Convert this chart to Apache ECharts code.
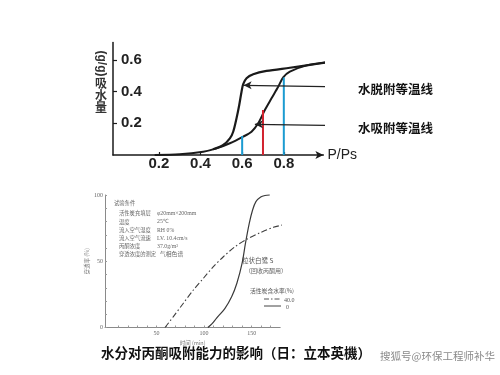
<!DOCTYPE html>
<html><head><meta charset="utf-8">
<script src="https://cdn.jsdelivr.net/npm/echarts@6/dist/echarts.min.js"></script>
<style>html,body{margin:0;padding:0;background:#fff}#c{width:500px;height:375px}</style>
</head><body><div id="c"></div>
<script>
// ---------- top chart: water isotherms ----------
const isoXTicks = [0.2, 0.4, 0.6, 0.8];
const isoYTicks = [0.2, 0.4, 0.6];
const adsorption = [[0.18,0.0],[0.3,0.004],[0.413,0.021],[0.477,0.042],[0.541,0.074],[0.605,0.116],[0.645,0.147],[0.677,0.20],[0.709,0.284],[0.741,0.358],[0.773,0.431],[0.797,0.49],[0.829,0.526],[0.91,0.566],[1.013,0.586]];
const desorption = [[0.46,0.036],[0.509,0.063],[0.541,0.105],[0.557,0.147],[0.573,0.232],[0.586,0.316],[0.597,0.40],[0.605,0.447],[0.621,0.485],[0.653,0.51],[0.717,0.531],[0.829,0.551],[0.925,0.569],[1.013,0.586]];
const guideX = [0.6, 0.7, 0.8];
const guideTop = [0.12, 0.285, 0.49];
const guideColor = ['#1b9bd1', '#d2232f', '#1b9bd1'];
const arrowDes = [[1.127, 0.43], [0.607, 0.44]];
const arrowAds = [[1.127, 0.184], [0.661, 0.194]];

// ---------- bottom chart: acetone breakthrough ----------
const btXLabels = [50, 100, 150];
const btXTicks = [10,20,30,40,50,60,70,80,90,100,110,120,130,140,150,160,170];
const btYLabels = [0, 50, 100];
const moist0 = [[104,0],[108,2.5],[113,6.9],[122,14.5],[129,23.2],[134.5,33.4],[140,48.5],[143.5,63.5],[147.5,78.6],[151,88.7],[154.5,95],[159.5,98.5],[164,99.6],[169,100]];
const moist40 = [[59,0],[67.8,8.2],[78.3,18.3],[88.8,28.3],[99.3,37.1],[109.8,45.9],[120.3,53.4],[132.6,61],[144.9,66.6],[158.8,71.5],[172.8,75.6],[190.3,78.6]];
const condLabels = ['试验条件','活性炭充填层','温度','流入空气湿度','流入空气流速','丙酮浓度','穿透浓度的测定'];
const condValues = ['','φ20mm×200mm','25℃','RH 0%','LV. 10.4cm/s','37.0g/m³','气相色谱'];

const SANS = '"Liberation Sans", Arial, sans-serif';
const CJK = '"Noto Sans CJK SC", sans-serif';

const chart = echarts.init(document.getElementById('c'), null, {renderer:'canvas'});

const series = [];
series.push({type:'line', xAxisIndex:0, yAxisIndex:0, data:adsorption, smooth:0.3, symbol:'none', clip:false,
  lineStyle:{color:'#1a1a1a', width:2}});
series.push({type:'line', xAxisIndex:0, yAxisIndex:0, data:desorption, smooth:0.3, symbol:'none', clip:false,
  lineStyle:{color:'#1a1a1a', width:2.2}});
guideX.forEach((x,i)=>{
  series.push({type:'line', xAxisIndex:0, yAxisIndex:0, data:[[x,0],[x,guideTop[i]]], symbol:'none',
    lineStyle:{color:guideColor[i], width:2}});
});
[arrowDes, arrowAds].forEach(a=>{
  series.push({type:'line', xAxisIndex:0, yAxisIndex:0, clip:false,
    data:[{value:a[0], symbol:'none'}, {value:a[1], symbol:'arrow', symbolSize:[6,8], symbolRotate:90}],
    showAllSymbol:true, lineStyle:{color:'#222', width:1.3}, itemStyle:{color:'#222'}});
});
series.push({type:'line', xAxisIndex:1, yAxisIndex:1, data:moist0, smooth:0.3, symbol:'none', clip:false,
  lineStyle:{color:'#3a3a3a', width:1.2}});
series.push({type:'line', xAxisIndex:1, yAxisIndex:1, data:moist40, smooth:0.3, symbol:'none', clip:false,
  lineStyle:{color:'#3f3f3f', width:1.1, type:[6,2.5,1.5,2.5]}});

const graphics = [];
function txt(x,y,text,o){
  o = o||{};
  graphics.push({type:'text', silent:true, rotation:o.rot||0, x:x, y:y,
    style:{text:text, x:0, y:0, fill:o.color||'#222', fontSize:o.size||12, fontWeight:o.weight||'normal',
      fontFamily:o.family||CJK, align:o.align||'left', verticalAlign:'middle',
      textAlign:o.align||'left', textVerticalAlign:'middle'}});
}
// top y-axis title
txt(101,63.5,'(g/g)',{rot:-Math.PI/2, size:12, weight:'bold', family:SANS, color:'#333', align:'center'});
txt(101,83,'吸',{size:12, weight:'bold', color:'#333', align:'center'});
txt(101,95,'水',{size:12, weight:'bold', color:'#333', align:'center'});
txt(101,107.5,'量',{size:12, weight:'bold', color:'#333', align:'center'});
txt(358,89,'水脱附等温线',{size:12.5, weight:'bold', color:'#111'});
txt(358,128,'水吸附等温线',{size:12.5, weight:'bold', color:'#111'});
// bottom conditions
const condY = [203, 213, 221.5, 230, 238, 246, 253.5];
condLabels.forEach((t,i)=>{
  txt(i===0?114:119, condY[i], t, {size:5.3, color:'#666'});
  if (condValues[i]) txt(i===6?160:157, condY[i], condValues[i], {size:5.8, color:'#666', family:i===6?CJK:'"Liberation Serif", serif'});
});
txt(242,261,'粒状白鹭 S',{size:6.5, color:'#555'});
txt(245,271,'（回收丙酮用）',{size:6, color:'#666'});
txt(250,291,'活性炭含水率(%)',{size:5.8, color:'#555'});
graphics.push({type:'line', silent:true, shape:{x1:264,y1:299,x2:281,y2:299}, style:{stroke:'#555', lineWidth:1, lineDash:[5,2,1.5,2]}});
graphics.push({type:'line', silent:true, shape:{x1:264,y1:306,x2:281,y2:306}, style:{stroke:'#444', lineWidth:1}});
txt(284,300,'40.0',{size:6, color:'#555', family:'"Liberation Serif", serif'});
txt(286,307,'0',{size:6, color:'#555', family:'"Liberation Serif", serif'});
// caption + watermark
txt(101,353,'水分对丙酮吸附能力的影响（日：立本英機）',{size:13.5, weight:'bold', color:'#111'});
txt(380,356,'搜狐号@环保工程师补华',{size:10.5, color:'#8a8a8a'});

chart.setOption({
  animation:false,
  backgroundColor:'#ffffff',
  grid:[
    {left:113, top:42.6, width:210.4, height:112.4, containLabel:false, outerBoundsMode:'none'},
    {left:105, top:195, width:175.2, height:132.5, containLabel:false, outerBoundsMode:'none'}
  ],
  xAxis:[
    {gridIndex:0, type:'value', min:-0.02, max:0.99,
     axisLine:{onZero:false, lineStyle:{color:'#1a1a1a', width:1.5}, symbol:['none','arrow'], symbolSize:[6,8]},
     axisTick:{inside:true, length:3, customValues:isoXTicks, lineStyle:{color:'#1a1a1a', width:1.2}},
     axisLabel:{customValues:isoXTicks, margin:1, fontSize:15, fontWeight:'bold', fontFamily:SANS, color:'#222'},
     splitLine:{show:false},
     name:'P/Ps', nameLocation:'end', nameGap:4, nameTextStyle:{fontSize:14, fontFamily:SANS, color:'#222'}},
    {gridIndex:1, type:'value', min:-4, max:180,
     axisLine:{onZero:false, lineStyle:{color:'#8a8a8a', width:1}},
     axisTick:{inside:true, length:2, customValues:btXTicks, lineStyle:{color:'#999'}},
     axisLabel:{customValues:btXLabels, margin:3, fontSize:6, fontFamily:'"Liberation Serif", serif', color:'#666'},
     splitLine:{show:false},
     name:'时间 (min)', nameLocation:'middle', nameGap:13, nameTextStyle:{fontSize:5.5, color:'#777', fontFamily:CJK}}
  ],
  yAxis:[
    {gridIndex:0, type:'value', min:0, max:0.71,
     axisLine:{show:true, onZero:false, lineStyle:{color:'#1a1a1a', width:1.5}},
     axisTick:{show:true, inside:true, length:4, customValues:isoYTicks, lineStyle:{color:'#1a1a1a', width:1.2}},
     axisLabel:{inside:true, customValues:isoYTicks, margin:8, fontSize:15, fontWeight:'bold', fontFamily:SANS, color:'#222'},
     splitLine:{show:false}},
    {gridIndex:1, type:'value', min:0, max:100, interval:10,
     axisLine:{show:true, onZero:false, lineStyle:{color:'#8a8a8a', width:1}},
     axisTick:{show:true, inside:true, length:2, lineStyle:{color:'#999'}},
     axisLabel:{customValues:btYLabels, margin:2, fontSize:6, fontFamily:'"Liberation Serif", serif', color:'#666'},
     splitLine:{show:false},
     name:'穿透率 (%)', nameLocation:'middle', nameGap:13, nameRotate:90, nameTextStyle:{fontSize:5.5, color:'#777', fontFamily:CJK}}
  ],
  series:series,
  graphic:graphics
});
</script></body></html>
